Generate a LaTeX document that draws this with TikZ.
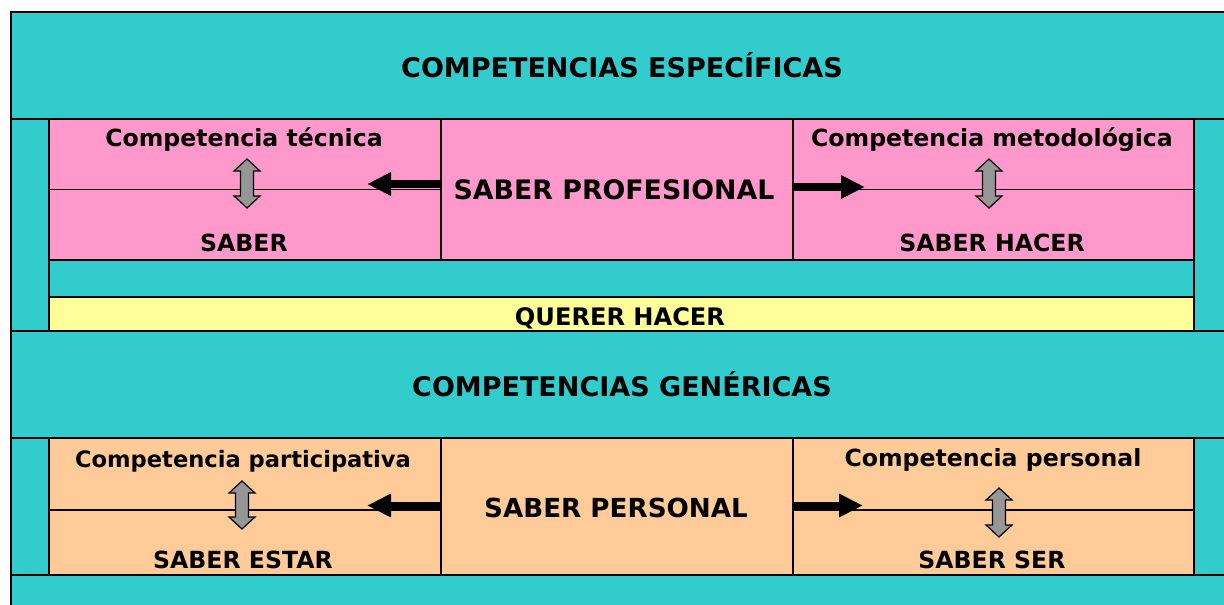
\documentclass[tikz,border=0pt]{standalone}
\usepackage{fontspec}
\setmainfont{DejaVu Sans}
\usetikzlibrary{arrows.meta}
\definecolor{tealc}{HTML}{33CCCC}
\definecolor{pinkc}{HTML}{FF99CC}
\definecolor{yellowc}{HTML}{FFFF99}
\definecolor{orangec}{HTML}{FFCC99}
\definecolor{grayc}{HTML}{969696}
\newcommand\fsz[1]{\fontsize{#1}{#1}\selectfont\bfseries}
\newcommand\dblarr[3]{% x, ytop, ybottom
  \filldraw[fill=grayc,draw=black,line width=1.2pt,line join=miter]
    (#1,#2) -- ++(13,12) -- ++(-6.5,0) -- (#1+6.5,#3-12) -- ++(6.5,0) -- (#1,#3)
    -- ++(-13,-12) -- ++(6.5,0) -- (#1-6.5,#2+12) -- ++(-6.5,0) -- cycle;}
\begin{document}
\begin{tikzpicture}[x=1pt,y=-1pt,
  box/.style={draw=black,line width=1.6pt,inner sep=0pt,anchor=north west},
  ln/.style={draw=black,line width=1.6pt},
  lbl/.style={anchor=base,inner sep=0pt},
  bigarrow/.style={draw=black,line width=8pt,-{Triangle[length=24pt,width=22pt]}}]
\useasboundingbox (0,0) rectangle (1224,605);
\clip (0,0) rectangle (1224,605);
\fill[white] (0,0) rectangle (1224,605);
% bands
\node[box,fill=tealc,minimum width=1230pt,minimum height=107pt] (especb) at (10,11) {};
\node[box,fill=tealc,minimum width=38pt,minimum height=212pt] (lcol1) at (10,118) {};
\node[box,fill=tealc,minimum width=40pt,minimum height=212pt] (rcol1) at (1193,118) {};
\node[box,fill=tealc,minimum width=1230pt,minimum height=107pt] (generb) at (10,330) {};
\node[box,fill=tealc,minimum width=38pt,minimum height=137pt] (lcol2) at (10,437) {};
\node[box,fill=tealc,minimum width=40pt,minimum height=137pt] (rcol2) at (1193,437) {};
\node[box,fill=tealc,minimum width=1230pt,minimum height=40pt] (bottomb) at (10,574) {};
% upper boxes
\node[box,fill=pinkc,minimum width=392pt,minimum height=141pt] (tl) at (48,118) {};
\node[box,fill=pinkc,minimum width=352pt,minimum height=141pt] (prof) at (440,118) {};
\node[box,fill=pinkc,minimum width=401pt,minimum height=141pt] (tr) at (792,118) {};
\node[box,fill=tealc,minimum width=1145pt,minimum height=37pt] (midband) at (48,259) {};
\node[box,fill=yellowc,minimum width=1145pt,minimum height=34pt] (querer) at (48,296) {};
\draw[ln] (tl.west) -- (tl.east);
\draw[ln] (tr.west) -- (tr.east);
% lower boxes
\node[box,fill=orangec,minimum width=392pt,minimum height=137pt] (bl) at (48,437) {};
\node[box,fill=orangec,minimum width=352pt,minimum height=137pt] (pers) at (440,437) {};
\node[box,fill=orangec,minimum width=401pt,minimum height=137pt] (br) at (792,437) {};
\draw[ln] ([yshift=-3.5pt]bl.west) -- ([yshift=-3.5pt]bl.east);
\draw[ln] ([yshift=-3.5pt]br.west) -- ([yshift=-3.5pt]br.east);
% texts
\node[lbl,font=\fsz{27}] (t1) at (622,77) {COMPETENCIAS ESPECÍFICAS};
\node[lbl,font=\fsz{27}] (t2) at (622,396) {COMPETENCIAS GENÉRICAS};
\node[lbl,font=\fsz{24.1}] (t3) at (620,325) {QUERER HACER};
\node[lbl,font=\fsz{26.8}] (t4) at (614,199) {SABER PROFESIONAL};
\node[lbl,font=\fsz{26.2}] (t5) at (616,517) {SABER PERSONAL};
\node[lbl,font=\fsz{23.6}] (t6) at (244,146) {Competencia técnica};
\node[lbl,font=\fsz{23.6}] (t7) at (244,251) {SABER};
\node[lbl,font=\fsz{23.6}] (t8) at (992,146) {Competencia metodológica};
\node[lbl,font=\fsz{23.6}] (t9) at (992,251) {SABER HACER};
\node[lbl,font=\fsz{22.6}] (t10) at (243,467) {Competencia participativa};
\node[lbl,font=\fsz{23.6}] (t11) at (243,568) {SABER ESTAR};
\node[lbl,font=\fsz{23.6}] (t12) at (993,466) {Competencia personal};
\node[lbl,font=\fsz{23.6}] (t13) at (992,568) {SABER SER};
% black arrows
\coordinate (a1) at (367,184);
\coordinate (a2) at (865,187);
\coordinate (a3) at (367,505.5);
\coordinate (a4) at (863,505.5);
\draw[bigarrow] (prof.west |- a1) -- (a1);
\draw[bigarrow] (prof.east |- a2) -- (a2);
\draw[bigarrow] (pers.west |- a3) -- (a3);
\draw[bigarrow] (pers.east |- a4) -- (a4);
% double arrows
\dblarr{247}{159}{208}
\dblarr{989}{159}{208}
\dblarr{242}{481}{529}
\dblarr{999}{488}{537}
\end{tikzpicture}
\end{document}
